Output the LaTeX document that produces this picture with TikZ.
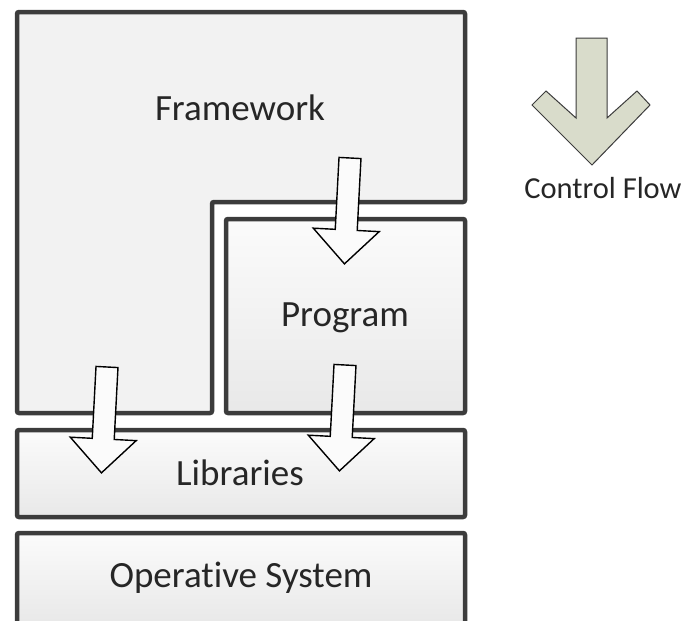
\documentclass[tikz,border=0pt]{standalone}
\usepackage{fontspec}
\setmainfont{Carlito}[Ligatures=CommonOff]
\usetikzlibrary{positioning}
\definecolor{edge}{RGB}{60,60,60}
\definecolor{panel}{RGB}{242,242,242}
\definecolor{sage}{RGB}{217,220,203}

\tikzset{
  layer/.style={draw=edge, line width=4.5pt, rounded corners=2pt,
    top color=white!70!panel, bottom color=panel!96!black, inner sep=0pt},
  caption/.style={font=\fontsize{37}{40}\selectfont, text=black!85},
  blockarrow/.pic={
    \draw[black, line width=1.4pt, fill=white!97!gray, line join=miter]
      (-11,0) -- (11,0) -- (11,72) -- (33,72) -- (0,106)
      -- (-33,72) -- (-11,72) -- cycle;
  }
}

\begin{document}
\begin{tikzpicture}[x=1pt, y=-1pt]
    \useasboundingbox (0,0) rectangle (686,621);

    % framework, L-shaped around the program
    \draw[edge, line width=4.5pt, fill=panel, rounded corners=2pt]
      (17,12) -- (465,12) -- (465,202) -- (212,202) -- (212,413) -- (17,413) -- cycle;
    \node [caption] (fw) at (240,108) {Framework};

    \node [layer, minimum width=239pt, minimum height=194pt] (prog) at (345.5,316) {};
    \node [caption] (progtext) at (345,318) {Program};

    \node [layer, minimum width=448pt, minimum height=87pt] (libs) at (241,473.5) {};
    \node [caption] (libtext) at (240,473) {Libraries};

    \node [layer, minimum width=448pt, minimum height=91pt] (os) at (241,578.5) {};
    \node [caption] (ostext) at (241,578) {Operative System};

    % calls going down
    \pic [rotate=-3] at (350,158) {blockarrow};
    \pic [rotate=-3] at (107,367) {blockarrow};
    \pic [rotate=-3] at (345,365) {blockarrow};

    % legend
    \draw[edge, line width=1pt, fill=sage, line join=miter]
      (576,38) -- (607,38) -- (607,118) -- (637,91) -- (650,105) -- (592,165)
      -- (532,105) -- (546,91) -- (576,118) -- cycle;
    \node [font=\fontsize{30.5}{32}\selectfont, text=black!85] (ctrl) at (603,188) {Control Flow};
\end{tikzpicture}
\end{document}
